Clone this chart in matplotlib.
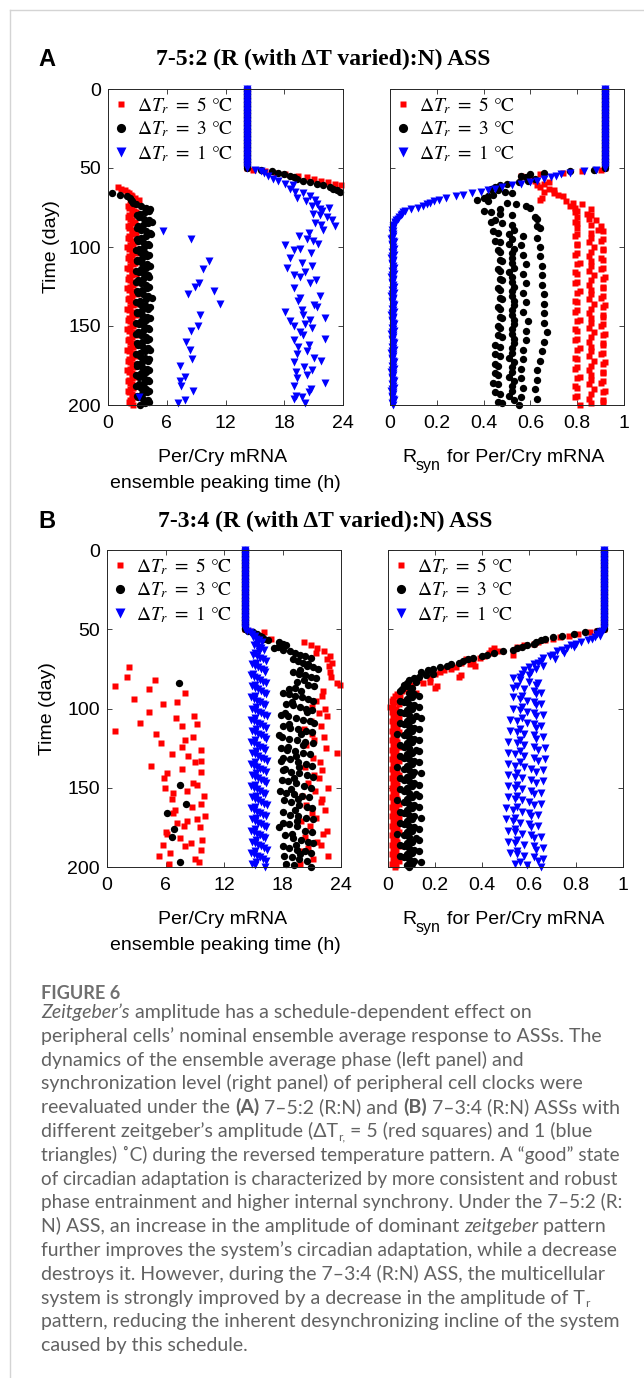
import matplotlib
matplotlib.use('Agg')
import matplotlib.pyplot as plt
from matplotlib.font_manager import FontProperties
from matplotlib.lines import Line2D

plt.rcParams['font.family'] = ['Liberation Sans', 'DejaVu Sans']
plt.rcParams['mathtext.fontset'] = 'stix'

W, H = 644, 1378

# ---------------- data ----------------
days_pre = list(range(0, 51))
days_post = list(range(51, 201))

# before the shift all three amplitudes coincide
A_phase_pre = [14.2, 14.2, 14.2, 14.2, 14.2, 14.2, 14.2, 14.2, 14.2, 14.2,
               14.2, 14.2, 14.2, 14.2, 14.2, 14.2, 14.2, 14.2, 14.2, 14.2,
               14.2, 14.2, 14.2, 14.2, 14.2, 14.2, 14.2, 14.2, 14.2, 14.2,
               14.2, 14.2, 14.2, 14.2, 14.2, 14.2, 14.2, 14.2, 14.2, 14.2,
               14.2, 14.2, 14.2, 14.2, 14.2, 14.2, 14.2, 14.2, 14.2, 14.2, 14.2]
A_sync_pre = [0.92, 0.92, 0.92, 0.92, 0.92, 0.92, 0.92, 0.92, 0.92, 0.92,
              0.92, 0.92, 0.92, 0.92, 0.92, 0.92, 0.92, 0.92, 0.92, 0.92,
              0.92, 0.92, 0.92, 0.92, 0.92, 0.92, 0.92, 0.92, 0.92, 0.92,
              0.92, 0.92, 0.92, 0.92, 0.92, 0.92, 0.92, 0.92, 0.92, 0.92,
              0.92, 0.92, 0.92, 0.92, 0.92, 0.92, 0.92, 0.92, 0.92, 0.92, 0.92]
B_phase_pre = [14.2, 14.2, 14.2, 14.2, 14.2, 14.2, 14.2, 14.2, 14.2, 14.2,
               14.2, 14.2, 14.2, 14.2, 14.2, 14.2, 14.2, 14.2, 14.2, 14.2,
               14.2, 14.2, 14.2, 14.2, 14.2, 14.2, 14.2, 14.2, 14.2, 14.2,
               14.2, 14.2, 14.2, 14.2, 14.2, 14.2, 14.2, 14.2, 14.2, 14.2,
               14.2, 14.2, 14.2, 14.2, 14.2, 14.2, 14.2, 14.2, 14.2, 14.2, 14.2]
B_sync_pre = [0.92, 0.92, 0.92, 0.92, 0.92, 0.92, 0.92, 0.92, 0.92, 0.92,
              0.92, 0.92, 0.92, 0.92, 0.92, 0.92, 0.92, 0.92, 0.92, 0.92,
              0.92, 0.92, 0.92, 0.92, 0.92, 0.92, 0.92, 0.92, 0.92, 0.92,
              0.92, 0.92, 0.92, 0.92, 0.92, 0.92, 0.92, 0.92, 0.92, 0.92,
              0.92, 0.92, 0.92, 0.92, 0.92, 0.92, 0.92, 0.92, 0.92, 0.92, 0.92]

# panel A, phase (h), days 51..200
A_phase_red = [14.8, 16.0, 17.2, 18.1, 19.4, 20.3, 21.0, 21.8, 22.5, 23.2,
               23.8, 1.0, 1.3, 1.7, 1.9, 2.1, 2.3, 2.5, 2.8, 3.2,
               3.0, 2.6, 2.2, 2.0, 2.1, 2.4, 2.7, 2.9, 2.5, 2.1,
               2.0, 2.2, 2.5, 2.8, 2.6, 2.2, 2.0, 2.1, 2.4, 2.7,
               2.9, 2.5, 2.1, 2.0, 2.2, 2.5, 2.8, 2.6, 2.2, 1.9,
               2.1, 2.4, 2.7, 2.9, 2.5, 2.1, 2.0, 2.2, 2.5, 2.8,
               2.6, 2.2, 1.9, 2.1, 2.4, 2.7, 2.9, 2.5, 2.1, 2.0,
               2.2, 2.5, 2.8, 2.6, 2.2, 1.9, 2.1, 2.4, 2.7, 3.0,
               2.5, 2.1, 2.0, 2.2, 2.5, 2.8, 2.6, 2.2, 1.9, 2.1,
               2.4, 2.7, 2.9, 2.5, 2.1, 2.0, 2.2, 2.5, 2.8, 2.6,
               2.2, 1.9, 2.1, 2.4, 2.7, 2.9, 2.5, 2.1, 2.0, 2.2,
               2.5, 2.8, 2.6, 2.2, 1.9, 2.1, 2.4, 2.7, 2.9, 2.5,
               2.1, 2.0, 2.2, 2.5, 2.8, 2.6, 2.2, 1.9, 2.1, 2.4,
               2.7, 2.9, 2.5, 2.1, 2.0, 2.2, 2.5, 2.8, 2.6, 2.2,
               2.0, 2.1, 2.4, 2.7, 2.9, 2.5, 2.2, 2.1, 2.3, 2.6]
A_phase_black = [15.6, 16.7, 17.4, 18.0, 18.6, 19.0, 19.3, 19.9, 20.6, 21.3,
                 22.0, 22.7, 23.0, 23.4, 23.7, 0.4, 1.2, 1.9, 2.2, 2.3,
                 2.5, 2.6, 2.9, 3.4, 3.9, 4.3, 4.2, 3.8, 3.3, 3.0,
                 3.2, 3.7, 4.2, 4.5, 4.1, 3.6, 3.1, 3.0, 3.4, 3.9,
                 4.3, 4.4, 3.9, 3.4, 3.0, 3.1, 3.6, 4.1, 4.2, 3.7,
                 3.2, 2.9, 3.3, 3.8, 4.2, 4.0, 3.5, 3.0, 3.0, 3.5,
                 4.0, 4.3, 3.9, 3.4, 2.9, 3.2, 3.7, 4.1, 4.2, 3.6,
                 3.1, 2.9, 3.4, 3.9, 4.2, 4.0, 3.5, 3.0, 3.1, 3.6,
                 4.1, 4.5, 3.9, 3.3, 2.9, 3.3, 3.8, 4.3, 4.1, 3.5,
                 3.0, 3.0, 3.5, 4.0, 4.3, 3.9, 3.4, 2.9, 3.2, 3.7,
                 4.1, 4.2, 3.6, 3.1, 2.9, 3.4, 3.9, 4.2, 4.0, 3.5,
                 3.0, 3.1, 3.6, 4.1, 4.3, 3.8, 3.3, 2.9, 3.3, 3.8,
                 4.2, 4.1, 3.5, 3.0, 3.0, 3.5, 4.0, 4.2, 3.9, 3.4,
                 2.9, 3.2, 3.7, 4.1, 4.2, 3.7, 3.2, 2.9, 3.4, 3.9,
                 4.2, 4.0, 3.5, 3.0, 3.1, 3.6, 4.1, 4.2, 3.8, 3.3]
# blue (1 C) scatters, so its days are listed with it
A_phase_blue_days = [51, 52, 53, 55, 57, 58, 60, 61, 63, 65, 66, 68, 69, 70, 71,
                     73, 74, 75, 76, 77, 79, 80, 81, 83, 85, 86, 87, 89, 90, 91,
                     93, 95, 95, 96, 98, 99, 101, 102, 104, 107, 109, 110, 112,
                     113, 114, 116, 118, 119, 121, 123, 123, 125, 126, 128, 130,
                     131, 132, 134, 136, 137, 138, 140, 141, 143, 143, 145, 146,
                     147, 149, 150, 150, 151, 153, 154, 156, 158, 159, 160, 162,
                     163, 165, 166, 168, 170, 171, 172, 173, 175, 176, 178, 179,
                     181, 182, 183, 185, 186, 188, 188, 190, 191, 192, 194, 195,
                     195, 196, 197, 199, 199]
A_phase_blue = [15.0, 15.6, 15.9, 16.3, 16.9, 17.4, 18.1, 18.9, 18.6, 19.1, 19.9,
                20.6, 19.3, 21.1, 20.2, 21.3, 20.8, 22.6, 21.6, 21.9, 20.9, 21.7,
                22.4, 22.9, 21.1, 21.8, 23.2, 22.0, 5.6, 20.5, 19.5, 8.5, 20.3,
                20.9, 21.4, 18.1, 19.6, 19.0, 20.7, 18.6, 10.3, 19.8, 20.8, 18.3,
                9.7, 20.1, 19.0, 19.6, 21.2, 9.3, 20.6, 8.9, 19.0, 10.8, 8.2,
                21.6, 19.6, 19.4, 11.4, 21.0, 21.3, 19.8, 18.1, 9.4, 19.9, 22.2,
                20.6, 18.6, 20.1, 19.0, 9.2, 20.8, 8.5, 19.6, 19.9, 22.2, 19.0,
                8.0, 20.5, 19.4, 8.4, 20.3, 19.3, 21.0, 8.6, 21.8, 19.0, 7.4,
                20.0, 20.8, 19.2, 20.3, 7.9, 19.3, 7.4, 22.2, 19.0, 7.5, 20.7,
                8.7, 20.5, 19.2, 3.2, 19.8, 19.0, 7.9, 20.1, 7.1]

# panel A, R_syn, days 51..200
A_sync_red = [0.90, 0.82, 0.74, 0.64, 0.56, 0.58, 0.60, 0.62, 0.68, 0.66,
              0.63, 0.64, 0.68, 0.70, 0.66, 0.70, 0.72, 0.74, 0.65, 0.64,
              0.75, 0.78, 0.82, 0.77, 0.79, 0.86, 0.80, 0.79, 0.84, 0.86,
              0.80, 0.85, 0.88, 0.79, 0.80, 0.86, 0.90, 0.80, 0.89, 0.91,
              0.86, 0.80, 0.79, 0.86, 0.91, 0.90, 0.85, 0.80, 0.80, 0.87,
              0.91, 0.91, 0.86, 0.80, 0.79, 0.85, 0.90, 0.91, 0.86, 0.81,
              0.80, 0.86, 0.91, 0.90, 0.85, 0.79, 0.80, 0.87, 0.92, 0.91,
              0.86, 0.80, 0.79, 0.85, 0.91, 0.91, 0.86, 0.81, 0.80, 0.86,
              0.91, 0.90, 0.85, 0.79, 0.80, 0.87, 0.92, 0.91, 0.86, 0.80,
              0.79, 0.85, 0.91, 0.91, 0.86, 0.81, 0.80, 0.86, 0.91, 0.90,
              0.85, 0.79, 0.80, 0.87, 0.92, 0.91, 0.86, 0.80, 0.79, 0.85,
              0.91, 0.91, 0.86, 0.81, 0.80, 0.86, 0.91, 0.90, 0.85, 0.79,
              0.80, 0.87, 0.92, 0.91, 0.86, 0.80, 0.79, 0.85, 0.91, 0.91,
              0.86, 0.81, 0.80, 0.86, 0.91, 0.90, 0.85, 0.79, 0.80, 0.87,
              0.92, 0.91, 0.86, 0.80, 0.79, 0.85, 0.91, 0.91, 0.86, 0.81]
A_sync_black = [0.87, 0.77, 0.66, 0.60, 0.56, 0.58, 0.62, 0.59, 0.55, 0.50,
                0.47, 0.45, 0.43, 0.46, 0.49, 0.52, 0.44, 0.42, 0.40, 0.37,
                0.42, 0.50, 0.54, 0.58, 0.60, 0.47, 0.40, 0.43, 0.47, 0.52,
                0.62, 0.63, 0.45, 0.43, 0.48, 0.52, 0.63, 0.64, 0.53, 0.44,
                0.46, 0.51, 0.57, 0.63, 0.52, 0.45, 0.47, 0.51, 0.56, 0.64,
                0.53, 0.46, 0.47, 0.52, 0.57, 0.64, 0.52, 0.47, 0.48, 0.52,
                0.58, 0.65, 0.53, 0.46, 0.47, 0.51, 0.57, 0.65, 0.52, 0.47,
                0.48, 0.52, 0.58, 0.65, 0.53, 0.46, 0.47, 0.52, 0.57, 0.66,
                0.52, 0.47, 0.48, 0.53, 0.58, 0.66, 0.53, 0.46, 0.47, 0.52,
                0.57, 0.66, 0.52, 0.47, 0.48, 0.53, 0.59, 0.66, 0.53, 0.46,
                0.47, 0.52, 0.58, 0.67, 0.52, 0.46, 0.48, 0.53, 0.58, 0.66,
                0.53, 0.45, 0.47, 0.52, 0.57, 0.65, 0.52, 0.45, 0.47, 0.51,
                0.57, 0.64, 0.53, 0.45, 0.46, 0.52, 0.56, 0.63, 0.52, 0.45,
                0.46, 0.51, 0.56, 0.63, 0.53, 0.44, 0.46, 0.52, 0.57, 0.62,
                0.52, 0.45, 0.47, 0.51, 0.56, 0.63, 0.53, 0.46, 0.48, 0.55]
A_sync_blue = [0.88, 0.83, 0.77, 0.73, 0.71, 0.69, 0.66, 0.63, 0.60, 0.56,
               0.52, 0.48, 0.45, 0.42, 0.39, 0.35, 0.31, 0.28, 0.24, 0.21,
               0.19, 0.17, 0.16, 0.14, 0.12, 0.09, 0.065, 0.055, 0.05, 0.045,
               0.04, 0.035, 0.025, 0.02, 0.02, 0.016, 0.014, 0.012, 0.010, 0.012,
               0.008, 0.011, 0.014, 0.009, 0.006, 0.012, 0.015, 0.010, 0.007, 0.013,
               0.016, 0.011, 0.008, 0.012, 0.015, 0.009, 0.006, 0.011, 0.014, 0.010,
               0.007, 0.013, 0.016, 0.011, 0.008, 0.012, 0.015, 0.009, 0.006, 0.011,
               0.014, 0.010, 0.007, 0.013, 0.016, 0.011, 0.008, 0.012, 0.015, 0.009,
               0.006, 0.011, 0.014, 0.010, 0.007, 0.013, 0.016, 0.011, 0.008, 0.012,
               0.015, 0.009, 0.006, 0.011, 0.014, 0.010, 0.007, 0.013, 0.016, 0.011,
               0.008, 0.012, 0.015, 0.009, 0.006, 0.011, 0.014, 0.010, 0.007, 0.013,
               0.016, 0.011, 0.008, 0.012, 0.015, 0.009, 0.006, 0.011, 0.014, 0.010,
               0.007, 0.013, 0.016, 0.011, 0.008, 0.012, 0.015, 0.009, 0.006, 0.011,
               0.014, 0.010, 0.007, 0.013, 0.016, 0.011, 0.008, 0.012, 0.015, 0.009,
               0.006, 0.011, 0.014, 0.010, 0.007, 0.013, 0.016, 0.011, 0.008, 0.012]

# panel B, phase (h)
# red (5 C) splits into two groups, so its days are listed with it
B_phase_red_days = [51, 52, 54, 56, 58, 60, 62, 64, 65, 67, 69, 71, 73, 74, 77,
                    80, 80, 82, 84, 85, 86, 88, 89, 90, 92, 94, 95, 96, 97, 99,
                    100, 102, 103, 105, 105, 106, 108, 109, 110, 111, 111, 113,
                    114, 116, 116, 118, 118, 120, 120, 122, 123, 124, 125, 126,
                    128, 129, 130, 131, 133, 134, 134, 136, 137, 138, 139, 140,
                    141, 142, 144, 144, 147, 147, 148, 150, 150, 152, 152, 153,
                    155, 155, 157, 157, 159, 160, 161, 162, 164, 164, 166, 166,
                    168, 169, 170, 171, 171, 172, 174, 174, 175, 177, 178, 179,
                    179, 181, 182, 183, 184, 185, 186, 186, 187, 188, 189, 190,
                    191, 193, 193, 195, 195, 197, 198, 198]
B_phase_red = [14.6, 16.1, 15.8, 16.8, 20.2, 20.9, 21.5, 22.3, 21.4, 22.9, 22.6,
               23.1, 22.8, 2.3, 22.9, 2.1, 23.0, 4.9, 23.6, 23.9, 0.85, 4.3,
               22.2, 8.0, 22.05, 2.8, 21.4, 7.2, 5.7, 21.0, 22.4, 4.3, 21.7,
               8.9, 22.6, 7.1, 20.9, 3.4, 9.2, 7.7, 21.9, 20.2, 0.8, 5.0, 21.0,
               8.8, 22.3, 8.0, 21.2, 5.5, 20.4, 7.7, 22.5, 9.6, 23.6, 6.7, 8.3,
               21.1, 9.6, 9.0, 21.8, 4.5, 20.3, 7.7, 22.0, 9.6, 6.2, 21.2, 5.8,
               21.7, 8.8, 20.6, 9.2, 5.9, 22.7, 8.2, 21.3, 6.8, 9.9, 20.0, 6.7,
               22.0, 21.9, 9.6, 20.4, 8.7, 7.0, 22.4, 6.8, 21.0, 10.0, 21.4, 9.2,
               8.2, 19.9, 7.2, 7.9, 20.8, 9.5, 22.6, 6.0, 6.2, 22.2, 20.3, 7.5,
               9.7, 21.5, 8.6, 5.7, 21.9, 8.0, 20.6, 9.6, 19.9, 6.5, 5.3, 22.7,
               9.0, 21.1, 9.4, 6.4, 19.8]
B_phase_black = [14.5, 15.0, 15.4, 15.7, 15.9, 16.1, 16.5, 17.6, 18.0, 18.4,
                 17.5, 17.1, 18.1, 18.8, 19.3, 19.8, 20.3, 20.9, 19.1, 19.6,
                 20.1, 20.6, 20.5, 21.1, 21.6, 19.8, 19.1, 19.7, 20.3, 20.9,
                 21.4, 20.2, 19.5, 7.4, 20.6, 21.2, 19.3, 18.7, 19.9, 18.1,
                 18.7, 19.3, 20.0, 20.6, 21.1, 19.0, 18.4, 19.1, 19.8, 20.4,
                 21.0, 20.5, 18.3, 17.8, 18.6, 19.4, 20.1, 20.8, 21.2, 18.7,
                 18.0, 18.8, 19.6, 20.4, 21.0, 19.9, 17.6, 17.9, 18.7, 19.5,
                 20.3, 21.1, 20.1, 18.6, 17.8, 18.5, 19.3, 20.1, 20.8, 19.4,
                 18.1, 18.8, 17.8, 19.6, 20.4, 21.0, 19.7, 18.3, 18.0, 18.9,
                 19.7, 20.5, 21.1, 19.2, 17.9, 18.6, 19.4, 7.5, 20.2, 20.9,
                 18.9, 17.7, 18.4, 19.2, 20.0, 20.7, 19.6, 18.2, 18.9, 8.1,
                 19.7, 20.5, 21.0, 19.3, 18.1, 6.2, 18.8, 19.6, 20.4, 21.1,
                 19.5, 18.0, 18.7, 19.5, 17.6, 6.9, 20.3, 21.0, 19.0, 18.3,
                 6.7, 19.1, 19.9, 20.6, 21.1, 19.4, 18.0, 18.7, 19.5, 20.3,
                 20.9, 19.8, 18.2, 19.0, 19.7, 20.5, 7.5, 18.4, 19.2, 20.9]
B_phase_blue = [14.4, 14.7, 14.9, 15.2, 15.0, 15.3, 15.6, 15.9, 15.4, 15.1,
                15.5, 15.8, 16.1, 15.6, 15.2, 15.0, 15.4, 15.7, 16.0, 16.3,
                15.3, 14.9, 15.2, 15.5, 15.8, 16.1, 16.2, 15.0, 14.8, 15.1,
                15.4, 15.7, 16.0, 16.3, 15.2, 14.9, 15.2, 15.5, 15.8, 16.1,
                16.3, 15.2, 14.8, 15.1, 15.4, 15.7, 16.0, 16.2, 15.3, 14.9,
                15.2, 15.5, 15.8, 16.1, 16.4, 15.2, 14.8, 15.1, 15.4, 15.7,
                16.0, 16.3, 15.3, 14.9, 15.2, 15.5, 15.8, 16.1, 16.3, 15.2,
                14.8, 15.1, 15.4, 15.7, 16.0, 16.2, 15.3, 14.9, 15.2, 15.5,
                15.8, 16.1, 16.4, 15.2, 14.8, 15.1, 15.4, 15.7, 16.0, 16.3,
                15.3, 14.9, 15.2, 15.5, 15.8, 16.1, 16.3, 15.2, 14.8, 15.1,
                15.4, 15.7, 16.0, 16.2, 15.3, 14.9, 15.2, 15.5, 15.8, 16.1,
                16.4, 15.2, 14.8, 15.1, 15.4, 15.7, 16.0, 16.3, 15.3, 14.9,
                15.2, 15.5, 15.8, 16.1, 16.3, 15.2, 14.8, 15.1, 15.4, 15.7,
                16.0, 16.2, 15.3, 14.9, 15.2, 15.5, 15.8, 16.1, 16.4, 15.2,
                14.8, 15.1, 15.4, 15.7, 16.0, 16.3, 15.3, 14.9, 15.2, 16.2]

# panel B, R_syn, days 51..200
B_sync_red = [0.89, 0.86, 0.81, 0.77, 0.73, 0.70, 0.67, 0.64, 0.62, 0.58,
              0.55, 0.45, 0.44, 0.47, 0.43, 0.53, 0.41, 0.39, 0.33, 0.36,
              0.31, 0.35, 0.37, 0.29, 0.27, 0.24, 0.22, 0.20, 0.31, 0.30,
              0.18, 0.13, 0.18, 0.15, 0.10, 0.21, 0.20, 0.08, 0.06, 0.12,
              0.04, 0.03, 0.05, 0.02, 0.015, 0.03, 0.045, 0.02, 0.01, 0.035,
              0.025, 0.015, 0.04, 0.03, 0.02, 0.045, 0.03, 0.015, 0.035, 0.025,
              0.02, 0.04, 0.03, 0.015, 0.045, 0.03, 0.02, 0.035, 0.025, 0.015,
              0.04, 0.03, 0.02, 0.045, 0.03, 0.015, 0.035, 0.025, 0.02, 0.04,
              0.03, 0.015, 0.045, 0.03, 0.02, 0.035, 0.025, 0.015, 0.04, 0.03,
              0.02, 0.045, 0.03, 0.015, 0.035, 0.025, 0.02, 0.04, 0.03, 0.015,
              0.045, 0.03, 0.02, 0.035, 0.025, 0.015, 0.04, 0.03, 0.02, 0.045,
              0.03, 0.015, 0.035, 0.025, 0.02, 0.04, 0.03, 0.015, 0.045, 0.03,
              0.02, 0.035, 0.025, 0.015, 0.04, 0.03, 0.02, 0.045, 0.03, 0.015,
              0.035, 0.025, 0.02, 0.04, 0.03, 0.015, 0.045, 0.03, 0.02, 0.035,
              0.025, 0.015, 0.04, 0.03, 0.02, 0.045, 0.03, 0.015, 0.035, 0.03]
B_sync_black = [0.89, 0.84, 0.79, 0.74, 0.70, 0.67, 0.65, 0.63, 0.62, 0.59,
                0.57, 0.55, 0.53, 0.49, 0.45, 0.42, 0.40, 0.36, 0.34, 0.32,
                0.30, 0.27, 0.25, 0.22, 0.19, 0.17, 0.14, 0.19, 0.16, 0.13,
                0.11, 0.09, 0.12, 0.08, 0.07, 0.08, 0.10, 0.06, 0.05, 0.09,
                0.11, 0.13, 0.10, 0.08, 0.05, 0.07, 0.09, 0.11, 0.13, 0.10,
                0.08, 0.05, 0.07, 0.09, 0.12, 0.14, 0.10, 0.08, 0.05, 0.07,
                0.09, 0.11, 0.13, 0.10, 0.08, 0.04, 0.07, 0.09, 0.11, 0.13,
                0.10, 0.08, 0.05, 0.07, 0.09, 0.12, 0.13, 0.10, 0.08, 0.05,
                0.07, 0.09, 0.11, 0.13, 0.10, 0.08, 0.04, 0.07, 0.09, 0.11,
                0.14, 0.10, 0.08, 0.05, 0.07, 0.09, 0.11, 0.13, 0.10, 0.08,
                0.05, 0.07, 0.09, 0.12, 0.13, 0.10, 0.08, 0.04, 0.07, 0.09,
                0.11, 0.13, 0.10, 0.08, 0.05, 0.07, 0.09, 0.11, 0.14, 0.10,
                0.08, 0.05, 0.07, 0.09, 0.11, 0.13, 0.10, 0.08, 0.04, 0.07,
                0.09, 0.12, 0.13, 0.10, 0.08, 0.05, 0.07, 0.09, 0.11, 0.13,
                0.10, 0.08, 0.05, 0.07, 0.09, 0.11, 0.14, 0.10, 0.08, 0.09]
B_sync_blue = [0.91, 0.90, 0.89, 0.90, 0.88, 0.87, 0.85, 0.82, 0.80, 0.78,
               0.79, 0.76, 0.74, 0.72, 0.75, 0.70, 0.69, 0.66, 0.71, 0.65,
               0.64, 0.62, 0.66, 0.60, 0.63, 0.58, 0.61, 0.57, 0.60, 0.56,
               0.53, 0.56, 0.60, 0.64, 0.63, 0.55, 0.53, 0.58, 0.62, 0.65,
               0.63, 0.57, 0.53, 0.56, 0.59, 0.62, 0.65, 0.63, 0.57, 0.53,
               0.56, 0.59, 0.62, 0.66, 0.63, 0.57, 0.52, 0.55, 0.59, 0.62,
               0.65, 0.63, 0.56, 0.52, 0.55, 0.58, 0.62, 0.66, 0.63, 0.56,
               0.51, 0.55, 0.58, 0.62, 0.67, 0.64, 0.56, 0.51, 0.54, 0.58,
               0.62, 0.67, 0.64, 0.56, 0.51, 0.54, 0.58, 0.61, 0.66, 0.63,
               0.55, 0.51, 0.54, 0.57, 0.61, 0.66, 0.63, 0.55, 0.51, 0.54,
               0.57, 0.61, 0.65, 0.62, 0.55, 0.51, 0.54, 0.57, 0.60, 0.65,
               0.62, 0.55, 0.50, 0.53, 0.57, 0.60, 0.64, 0.61, 0.54, 0.50,
               0.53, 0.56, 0.60, 0.64, 0.61, 0.54, 0.51, 0.54, 0.57, 0.61,
               0.65, 0.62, 0.55, 0.51, 0.54, 0.58, 0.62, 0.66, 0.63, 0.55,
               0.52, 0.55, 0.58, 0.62, 0.66, 0.64, 0.56, 0.54, 0.59, 0.65]

legend_labels = [r'$\Delta T_r\ =\ 5$ °C', r'$\Delta T_r\ =\ 3$ °C', r'$\Delta T_r\ =\ 1$ °C']
phase_ticks = [0, 6, 12, 18, 24]
sync_ticks = [0, 0.2, 0.4, 0.6, 0.8, 1]
sync_ticklabels = ['0', '0.2', '0.4', '0.6', '0.8', '1']
day_ticks = [0, 50, 100, 150, 200]

# ---------------- styles ----------------
RED = dict(ls='none', marker='s', ms=4.2, color='#ff0000', mec='none')
BLACK = dict(ls='none', marker='o', ms=5.3, color='black', mec='none')
BLUE = dict(ls='none', marker='v', ms=5.6, color='#0000ff', mec='none')

fig = plt.figure(figsize=(W / 100, H / 100), dpi=100)


def box(x0, y0, x1, y1):
    # pixel box (from top-left) -> figure fraction rect
    return [x0 / W, 1 - y1 / H, (x1 - x0) / W, (y1 - y0) / H]


def pt(x, y):
    return x / W, 1 - y / H


def style_axes(ax, xmax, xticks, xlabels, show_y):
    ax.set_xlim(0, xmax)
    ax.set_ylim(200, 0)
    ax.set_xticks(xticks)
    ax.set_xticklabels(xlabels)
    ax.set_yticks(day_ticks)
    ax.tick_params(direction='in', top=True, right=True, length=3.5, width=0.6,
                   labelsize=14, color='#262626')
    ax.tick_params(axis='x', pad=7)
    ax.tick_params(axis='y', pad=5, labelleft=show_y)
    for sp in ax.spines.values():
        sp.set_linewidth(0.7)
        sp.set_color('#262626')
    handles = [Line2D([], [], **dict(RED, ms=5.0)),
               Line2D([], [], **dict(BLACK, ms=6.6)),
               Line2D([], [], **dict(BLUE, ms=7.0))]
    ax.legend(handles, legend_labels, loc='upper left', frameon=False,
              prop={'family': 'STIXGeneral', 'size': 14}, borderaxespad=0.0,
              borderpad=0.3, handlelength=0.75, handletextpad=0.45,
              labelspacing=0.2)


def draw(ax, red, black, blue):
    for (d, v), st in zip([red, black, blue], [RED, BLACK, BLUE]):
        ax.plot(v, d, clip_on=False, **st)


axA1 = fig.add_axes(box(108, 89, 343, 405))
axA2 = fig.add_axes(box(390, 89, 624, 405))
axB1 = fig.add_axes(box(107, 550, 341, 867))
axB2 = fig.add_axes(box(388, 550, 623, 867))

draw(axA1, (days_pre + days_post, A_phase_pre + A_phase_red),
     (days_pre + days_post, A_phase_pre + A_phase_black),
     (days_pre + A_phase_blue_days, A_phase_pre + A_phase_blue))
draw(axA2, (days_pre + days_post, A_sync_pre + A_sync_red),
     (days_pre + days_post, A_sync_pre + A_sync_black),
     (days_pre + days_post, A_sync_pre + A_sync_blue))
draw(axB1, (days_pre + B_phase_red_days, B_phase_pre + B_phase_red),
     (days_pre + days_post, B_phase_pre + B_phase_black),
     (days_pre + days_post, B_phase_pre + B_phase_blue))
draw(axB2, (days_pre + days_post, B_sync_pre + B_sync_red),
     (days_pre + days_post, B_sync_pre + B_sync_black),
     (days_pre + days_post, B_sync_pre + B_sync_blue))

style_axes(axA1, 24, phase_ticks, [str(t) for t in phase_ticks], True)
style_axes(axA2, 1, sync_ticks, sync_ticklabels, False)
style_axes(axB1, 24, phase_ticks, [str(t) for t in phase_ticks], True)
style_axes(axB2, 1, sync_ticks, sync_ticklabels, False)

# ---------------- panel titles and labels ----------------
serif = ['Liberation Serif', 'DejaVu Serif']
for dy, letter, ttl, tx in [(0, 'A', '7-5:2 (R (with ΔT varied):N) ASS', 323.5),
                            (462, 'B', '7-3:4 (R (with ΔT varied):N) ASS', 325.5)]:
    fig.text(*pt(47, 65.5 + dy), letter, ha='center', va='baseline',
             size=17, weight='bold')
    fig.text(*pt(tx, 65 + dy), ttl, ha='center', va='baseline', size=17,
             weight='bold', family=serif)
    fig.text(*pt(223, 462 + dy), 'Per/Cry mRNA', ha='center', va='baseline', size=14)
    fig.text(*pt(225, 488 + dy), 'ensemble peaking time (h)', ha='center',
             va='baseline', size=14)
    # R with a large, low "syn" subscript
    fig.text(*pt(402, 462 + dy), 'R', ha='left', va='baseline', size=14)
    fig.text(*pt(416, 470 + dy), 'syn', ha='left', va='baseline', size=11.5)
    fig.text(*pt(447, 462 + dy), 'for Per/Cry mRNA', ha='left', va='baseline', size=14)
fig.text(*pt(51, 247), 'Time (day)', rotation=90, ha='center', va='center', size=14)
fig.text(*pt(47, 709), 'Time (day)', rotation=90, ha='center', va='center', size=14)

# ---------------- caption ----------------
fig.add_artist(Line2D([9.5 / W, 1], [1 - 9.5 / H, 1 - 9.5 / H], color='#d4d4d4', lw=1))
fig.add_artist(Line2D([9.5 / W, 9.5 / W], [0, 1 - 9.5 / H], color='#d4d4d4', lw=1))

cap_family = ['Lato', 'DejaVu Sans']
cap_color = '#626262'
renderer = fig.canvas.get_renderer()


def make_fonts(size):
    return {
        'n': FontProperties(family=cap_family, size=size),
        'i': FontProperties(family=cap_family, size=size, style='italic'),
        'b': FontProperties(family=cap_family, size=size, weight='bold'),
        's': FontProperties(family=cap_family, size=size * 0.62),
    }


def seg_width(s, fp):
    w1 = renderer.get_text_width_height_descent('|' + s + '|', fp, ismath=False)[0]
    w0 = renderer.get_text_width_height_descent('||', fp, ismath=False)[0]
    return w1 - w0


def line_width(line, fonts):
    return sum(seg_width(s, fonts[k]) for s, k in line)


caption = [
    [('Zeitgeber’s', 'i'), (' amplitude has a schedule-dependent effect on', 'n')],
    [('peripheral cells’ nominal ensemble average response to ASSs. The', 'n')],
    [('dynamics of the ensemble average phase (left panel) and', 'n')],
    [('synchronization level (right panel) of peripheral cell clocks were', 'n')],
    [('reevaluated under the ', 'n'), ('(A)', 'b'), (' 7–5:2 (R:N) and ', 'n'),
     ('(B)', 'b'), (' 7–3:4 (R:N) ASSs with', 'n')],
    [('different zeitgeber’s amplitude (ΔT', 'n'), ('r,', 's'),
     (' = 5 (red squares) and 1 (blue', 'n')],
    [('triangles) ˚C) during the reversed temperature pattern. A “good” state', 'n')],
    [('of circadian adaptation is characterized by more consistent and robust', 'n')],
    [('phase entrainment and higher internal synchrony. Under the 7–5:2 (R:', 'n')],
    [('N) ASS, an increase in the amplitude of dominant ', 'n'), ('zeitgeber', 'i'),
     (' pattern', 'n')],
    [('further improves the system’s circadian adaptation, while a decrease', 'n')],
    [('destroys it. However, during the 7–3:4 (R:N) ASS, the multicellular', 'n')],
    [('system is strongly improved by a decrease in the amplitude of T', 'n'), ('r', 's')],
    [('pattern, reducing the inherent desynchronizing incline of the system', 'n')],
    [('caused by this schedule.', 'n')],
]

# size the caption so the "(A) ... (B) ... with" line spans the column as in the figure
ref_w = line_width(caption[4], make_fonts(10))
cap_size = 10 * 577 / ref_w
text_left, text_right = 41, 620

fig.text(*pt(41, 999), 'FIGURE 6', ha='left', va='baseline', color='#707070',
         fontproperties=FontProperties(family=cap_family, size=cap_size * 0.93,
                                       weight='bold'))

for k, line in enumerate(caption):
    base = 1018 + 23.8 * k
    size = cap_size
    fonts = make_fonts(size)
    w = line_width(line, fonts)
    if w > text_right - text_left:
        # the typeset caption squeezes its longest lines into the column
        size = size * (text_right - text_left) / w
        fonts = make_fonts(size)
    x = text_left
    for s, kind in line:
        y = base + 3 if kind == 's' else base
        fig.text(*pt(x, y), s, ha='left', va='baseline', color=cap_color,
                 fontproperties=fonts[kind])
        x += seg_width(s, fonts[kind])

fig.savefig('out.png', dpi=100)
